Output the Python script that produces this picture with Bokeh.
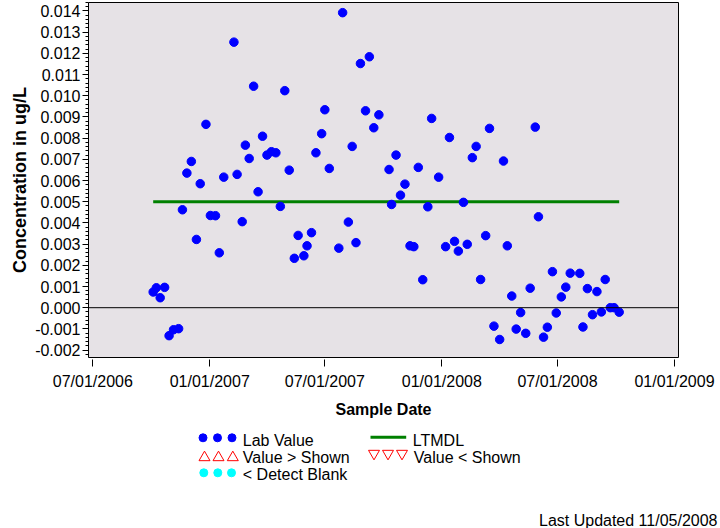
from datetime import datetime
import pandas as pd
from bokeh.plotting import figure
from bokeh.models import (Range1d, FixedTicker, SingleIntervalTicker, NumeralTickFormatter,
                          DatetimeTickFormatter, Span, ColumnDataSource, Title)
from bokeh.layouts import column
from bokeh.embed import file_html
from bokeh.resources import INLINE
from bokeh.core.properties import value

# ---------------- data ----------------
sample_dates = [
    "2006-10-04", "2006-10-09", "2006-10-15", "2006-10-22", "2006-10-29", "2006-11-05", "2006-11-13", "2006-11-19", "2006-11-26", "2006-12-03",
    "2006-12-11", "2006-12-17", "2006-12-26", "2007-01-02", "2007-01-10", "2007-01-16", "2007-01-23", "2007-02-08", "2007-02-13", "2007-02-21",
    "2007-02-26", "2007-03-04", "2007-03-11", "2007-03-18", "2007-03-25", "2007-04-01", "2007-04-08", "2007-04-15", "2007-04-22", "2007-04-29",
    "2007-05-06", "2007-05-14", "2007-05-20", "2007-05-29", "2007-06-03", "2007-06-10", "2007-06-17", "2007-06-26", "2007-07-01", "2007-07-08",
    "2007-07-23", "2007-07-29", "2007-08-07", "2007-08-13", "2007-08-19", "2007-08-26", "2007-09-03", "2007-09-09", "2007-09-16", "2007-09-24",
    "2007-10-10", "2007-10-14", "2007-10-21", "2007-10-28", "2007-11-04", "2007-11-12", "2007-11-18", "2007-11-25", "2007-12-02", "2007-12-10",
    "2007-12-16", "2007-12-27", "2008-01-07", "2008-01-13", "2008-01-21", "2008-01-27", "2008-02-04", "2008-02-10", "2008-02-18", "2008-02-24",
    "2008-03-02", "2008-03-10", "2008-03-16", "2008-03-23", "2008-04-01", "2008-04-07", "2008-04-13", "2008-04-20", "2008-04-27", "2008-05-04",
    "2008-05-12", "2008-05-19", "2008-05-27", "2008-06-01", "2008-06-09", "2008-06-15", "2008-06-23", "2008-06-29", "2008-07-07", "2008-07-14",
    "2008-07-21", "2008-08-05", "2008-08-10", "2008-08-17", "2008-08-25", "2008-09-01", "2008-09-08", "2008-09-14", "2008-09-22", "2008-09-28",
    "2008-10-06",
]
concentrations = [
    0.00074, 0.00094, 0.00047, 0.00096, -0.00132, -0.00104, -0.00099, 0.00462, 0.00635, 0.00690,
    0.00322, 0.00585, 0.00865, 0.00435, 0.00434, 0.00259, 0.00616, 0.01253, 0.00629, 0.00406,
    0.00767, 0.00704, 0.01045, 0.00547, 0.00809, 0.00720, 0.00736, 0.00731, 0.00478, 0.01024,
    0.00649, 0.00233, 0.00341, 0.00245, 0.00292, 0.00354, 0.00731, 0.00821, 0.00934, 0.00657,
    0.00281, 0.01392, 0.00404, 0.00761, 0.00307, 0.01152, 0.00929, 0.01184, 0.00849, 0.00910,
    0.00652, 0.00487, 0.00720, 0.00531, 0.00583, 0.00292, 0.00288, 0.00662, 0.00132, 0.00476,
    0.00893, 0.00616, 0.00288, 0.00803, 0.00313, 0.00267, 0.00497, 0.00299, 0.00708, 0.00761,
    0.00133, 0.00340, 0.00846, -0.00087, -0.00150, 0.00692, 0.00292, 0.00055, -0.00101, -0.00023,
    -0.00121, 0.00092, 0.00852, 0.00429, -0.00139, -0.00092, 0.00170, -0.00025, 0.00051, 0.00097,
    0.00163, 0.00162, -0.00091, 0.00090, -0.00033, 0.00076, -0.00020, 0.00133, 0.00000, 0.00000,
    -0.00021,
]
ltmdl = 0.005
x_tick_dates = ["2006-07-01", "2007-01-01", "2007-07-01", "2008-01-01", "2008-07-01", "2009-01-01"]
y_tick_step = 0.001
legend_labels = ["Lab Value", "Value > Shown", "< Detect Blank", "LTMDL", "Value < Shown"]
x_label = "Sample Date"
y_label = "Concentration in ug/L"
footer = "Last Updated 11/05/2008"

# ---------------- styling / layout ----------------
FONT = "Liberation Sans"
BLUE = "#0000FF"
RED = "#FF0000"
CYAN = "#00FFFF"
GREEN = "#008000"
W = 720
H1 = 425
H2 = 528 - H1
BL, BR = 88, 42

dates = pd.to_datetime(sample_dates)
src = ColumnDataSource(dict(date=dates, conc=concentrations))

p = figure(width=W, height=H1, x_axis_type="datetime",
           x_range=Range1d(datetime(2006, 6, 24, 6), datetime(2009, 1, 7, 7)),
           y_range=Range1d(-0.00235, 0.0144),
           output_backend="svg", toolbar_location=None,
           min_border_left=BL, min_border_right=BR, min_border_top=2, min_border_bottom=H1 - 357)
p.background_fill_color = "#E6E2E6"
p.border_fill_color = "white"
p.outline_line_color = "black"
p.outline_line_width = 1
p.grid.visible = False

# x axis
xa = p.xaxis[0]
xa.ticker = FixedTicker(ticks=[pd.Timestamp(d).timestamp() * 1000 for d in x_tick_dates], minor_ticks=[])
xa.formatter = DatetimeTickFormatter(days="%m/%d/%Y", months="%m/%d/%Y", years="%m/%d/%Y")
xa.axis_line_color = None
xa.major_tick_out = 9
xa.major_tick_in = -2
xa.major_tick_line_color = "black"
xa.major_label_standoff = 6
xa.major_label_text_font = FONT
xa.major_label_text_font_size = "16px"
xa.major_label_text_color = "black"
xa.axis_label = x_label
xa.axis_label_text_font = FONT
xa.axis_label_text_font_size = "16px"
xa.axis_label_text_font_style = "bold"
xa.axis_label_text_color = "black"
xa.axis_label_standoff = 8

# y axis
ya = p.yaxis[0]
ya.ticker = SingleIntervalTicker(interval=y_tick_step, num_minor_ticks=5)
ya.formatter = NumeralTickFormatter(format="0.000")
ya.axis_line_color = None
ya.major_tick_out = 6
ya.major_tick_in = 0
ya.minor_tick_out = 3
ya.minor_tick_in = 0
ya.major_tick_line_color = "black"
ya.minor_tick_line_color = "black"
ya.major_label_standoff = 2
ya.major_label_text_font = FONT
ya.major_label_text_font_size = "16px"
ya.major_label_text_color = "black"
ya.axis_label = y_label
ya.axis_label_text_font = FONT
ya.axis_label_text_font_size = "18px"
ya.axis_label_text_font_style = "bold"
ya.axis_label_text_color = "black"
ya.axis_label_standoff = 2

# zero reference line
p.add_layout(Span(location=0, dimension="width", line_color="black", line_width=1))

# LTMDL over the sampled period
p.line([dates.min(), dates.max()], [ltmdl, ltmdl], line_color=GREEN, line_width=3)

# lab values
p.scatter("date", "conc", source=src, marker="circle", size=8.5,
          fill_color=BLUE, line_color=BLUE, line_width=1)

# ---------------- legend / footer panel ----------------
# data units of this panel == page pixels (x to the right, y downwards)
LEG_BOTTOM = 509
p2 = figure(width=W, height=H2, x_range=Range1d(BL, W - BR), y_range=Range1d(LEG_BOTTOM, H1),
            output_backend="svg", toolbar_location=None,
            min_border_left=BL, min_border_right=BR, min_border_top=0,
            min_border_bottom=H1 + H2 - LEG_BOTTOM,
            x_axis_location=None, y_axis_location=None)
p2.outline_line_color = None
p2.grid.visible = False
p2.background_fill_color = "white"
p2.border_fill_color = "white"

key_x_left = [202.5, 217.0, 231.5]
key_x_right = [373.5, 387.5, 401.5]

p2.scatter(key_x_left, [437.3] * 3, marker="circle", size=8, fill_color=BLUE, line_color=BLUE)
p2.scatter([204.0, 218.0, 232.3], [457.0] * 3, marker="triangle", size=11, fill_color=None,
           line_color=RED, line_width=1)
p2.scatter([203.3, 217.3, 231.0], [472.3] * 3, marker="circle", size=8, fill_color=CYAN,
           line_color=CYAN)
p2.line([370, 405.7], [436.7] * 2, line_color=GREEN, line_width=3)
p2.scatter(key_x_right, [453.0] * 3, marker="inverted_triangle", size=11, fill_color=None,
           line_color=RED, line_width=1)

p2.text(x=[242.3, 242.3, 242.3, 412.3, 413.3],
        y=[439.5, 456.5, 474.0, 439.5, 456.5],
        text=legend_labels, text_font=value(FONT), text_font_size="16px",
        text_baseline="middle", text_align="left", text_color="black")

p2.add_layout(Title(text=footer, align="right", vertical_align="bottom", offset=-39, standoff=0,
                    text_font=FONT, text_font_size="16px", text_font_style="normal",
                    text_color="black"), "below")

layout = column(p, p2, spacing=0)
open("out.html", "w").write(file_html(layout, INLINE))
